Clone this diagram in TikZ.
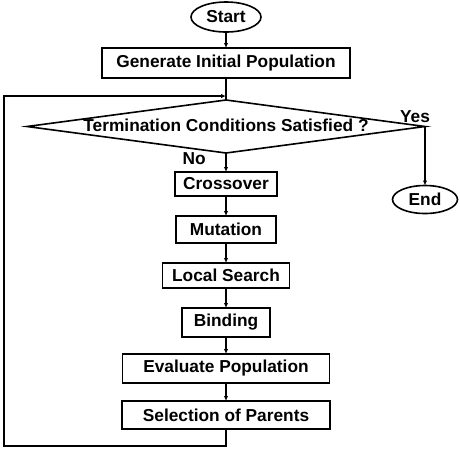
\documentclass[tikz,border=0pt]{standalone}
\usepackage{fontspec}
\setmainfont{Liberation Sans}
\usepackage{tikz}
\usetikzlibrary{arrows.meta,positioning,shapes.geometric,calc}

\begin{document}
\begin{tikzpicture}[
x=1pt,y=1pt,
line width=1.6pt,
font=\bfseries\fontsize{17.3}{19}\selectfont,
every node/.style={outer sep=0pt},
node distance=20pt,
box/.style={
draw,
minimum height=27pt,
inner sep=2pt,
align=center
},
terminal/.style={
draw,
ellipse,
inner sep=0pt,
minimum width=70pt,
minimum height=30pt
},
decision/.style={
draw,
diamond,
minimum width=398pt,
minimum height=53pt,
inner sep=0pt
},
arrow/.style={-{Latex[length=5pt,width=4.5pt]}}
]
\useasboundingbox (0,0) rectangle (460,-448);

\node[terminal] (start) at (226,-17) {Start};
\node[box,minimum width=248pt,minimum height=30pt,below=16pt of start] (init) {Generate Initial Population};
\node[decision,below=22pt of init] (check) {};
\node at ([yshift=1pt]check.center) (checktext) {Termination Conditions Satisfied ?};
\node[box,minimum width=102pt,minimum height=24pt,below=19pt of check] (cross) {Crossover};
\node[box,minimum width=100pt,below=of cross] (mut) {Mutation};
\node[box,minimum width=127pt,minimum height=25pt,below=of mut] (local) {Local Search};
\node[box,minimum width=88pt,minimum height=29pt,below=of local] (bind) {Binding};
\node[box,minimum width=207pt,minimum height=29pt,below=17pt of bind] (eval) {Evaluate Population};
\node[box,minimum width=208pt,minimum height=28pt,below=18pt of eval] (select) {Selection of Parents};
\node[terminal,minimum width=65pt,minimum height=28pt,below=59pt of check.east] (end) {End};
\node at ([xshift=-10pt,yshift=10pt]check.east) (yes) {Yes};

% loop back into the test
\coordinate (loopin) at ($(init.south)!0.82!(check.north)$);
\coordinate (loopbot) at ([yshift=-17pt]select.south);
\coordinate (loopleft) at (4,-96);

\draw[arrow] (start) -- (init);
\draw (init) -- (check);
\draw[arrow] (check) -- node[pos=0.3,left=17pt] {No} (cross);
\draw[arrow] (cross) -- (mut);
\draw[arrow] (mut) -- (local);
\draw[arrow] (local) -- (bind);
\draw[arrow] (bind) -- (eval);
\draw[arrow] (eval) -- (select);
\draw[arrow] (check.east) -- (end);
\draw[arrow] (select.south) -- (loopbot) -| (loopleft) -- (loopin);
\end{tikzpicture}
\end{document}
